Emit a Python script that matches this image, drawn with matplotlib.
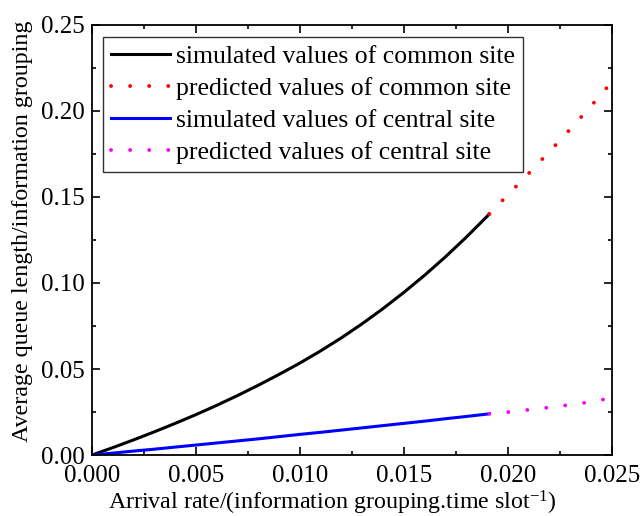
import matplotlib
matplotlib.use("Agg")
import matplotlib.pyplot as plt
from matplotlib.ticker import MultipleLocator, FormatStrFormatter

plt.rcParams['font.family'] = ['Liberation Serif', 'DejaVu Serif']
plt.rcParams['mathtext.default'] = 'regular'
plt.rcParams['mathtext.fontset'] = 'custom'
plt.rcParams['mathtext.rm'] = 'Liberation Serif'

# Simulated queue length, common site
sim_common_x = [0.0, 0.001, 0.002, 0.003, 0.004, 0.005, 0.006, 0.007, 0.008,
                0.009, 0.010, 0.011, 0.012, 0.013, 0.014, 0.015, 0.016,
                0.017, 0.018, 0.019, 0.0191]
sim_common_y = [0.0, 0.0043, 0.0088, 0.0135, 0.0184, 0.0235, 0.0289, 0.0346,
                0.0406, 0.0469, 0.0535, 0.0606, 0.0682, 0.0764, 0.0852,
                0.0946, 0.1046, 0.1153, 0.1267, 0.1388, 0.1401]

# Predicted queue length, common site
pred_common_x = [0.0191, 0.020, 0.021, 0.022, 0.023, 0.024, 0.025]
pred_common_y = [0.1401, 0.1513, 0.1638, 0.1765, 0.1895, 0.2030, 0.2170]

# Simulated queue length, central site
sim_central_x = [0.0, 0.001, 0.002, 0.003, 0.004, 0.005, 0.006, 0.007, 0.008,
                 0.009, 0.010, 0.011, 0.012, 0.013, 0.014, 0.015, 0.016,
                 0.017, 0.018, 0.019, 0.0191]
sim_central_y = [0.0, 0.0011, 0.0023, 0.0034, 0.0046, 0.0058, 0.0070, 0.0082,
                 0.0094, 0.0107, 0.0120, 0.0132, 0.0145, 0.0158, 0.0171,
                 0.0184, 0.0197, 0.0211, 0.0224, 0.0238, 0.0240]

# Predicted queue length, central site
pred_central_x = [0.0191, 0.020, 0.021, 0.022, 0.023, 0.024, 0.025]
pred_central_y = [0.0240, 0.0249, 0.0263, 0.0277, 0.0292, 0.0309, 0.0333]

labels = ["simulated values of common site",
          "predicted values of common site",
          "simulated values of central site",
          "predicted values of central site"]

fig = plt.figure(figsize=(6.44, 5.16), dpi=100)
ax = fig.add_axes([0.1429, 0.1182, 0.8074, 0.8334])

dot = (0, (0.01, 4.9))
ax.plot(sim_common_x, sim_common_y, color='black', lw=2.2, label=labels[0])
ax.plot(pred_common_x, pred_common_y, color='red', lw=2.8, linestyle=dot,
        dash_capstyle='round', label=labels[1])
ax.plot(sim_central_x, sim_central_y, color='blue', lw=2.2, label=labels[2])
ax.plot(pred_central_x, pred_central_y, color='magenta', lw=2.8, linestyle=dot,
        dash_capstyle='round', label=labels[3])

ax.set_xlim(0, 0.025)
ax.set_ylim(0, 0.25)
ax.xaxis.set_major_locator(MultipleLocator(0.005))
ax.xaxis.set_minor_locator(MultipleLocator(0.0025))
ax.yaxis.set_major_locator(MultipleLocator(0.05))
ax.yaxis.set_minor_locator(MultipleLocator(0.025))
ax.xaxis.set_major_formatter(FormatStrFormatter('%.3f'))
ax.yaxis.set_major_formatter(FormatStrFormatter('%.2f'))

ax.tick_params(which='both', direction='in', top=True, right=True,
               width=1.2, labelsize=18)
ax.tick_params(axis='x', which='major', pad=7)
ax.tick_params(axis='y', which='major', pad=5)
ax.tick_params(which='major', length=6)
ax.tick_params(which='minor', length=3)
for s in ax.spines.values():
    s.set_linewidth(1.3)

ax.set_xlabel(r'Arrival rate/(information grouping.time slot$^{-1}$)',
              fontsize=17.3)
ax.xaxis.set_label_coords(0.4615, -0.078)
ax.set_ylabel('Average queue length/information grouping', fontsize=17.3)
ax.yaxis.set_label_coords(-0.113, 0.521)

leg = ax.legend(loc='upper left', bbox_to_anchor=(0.021, 0.972),
                borderaxespad=0, fontsize=18.5, handlelength=2.3,
                handletextpad=0.25, labelspacing=0.36, borderpad=0.3,
                frameon=True, fancybox=False, edgecolor='black')
leg.get_frame().set_linewidth(1.0)

fig.savefig('out.png', dpi=100)
